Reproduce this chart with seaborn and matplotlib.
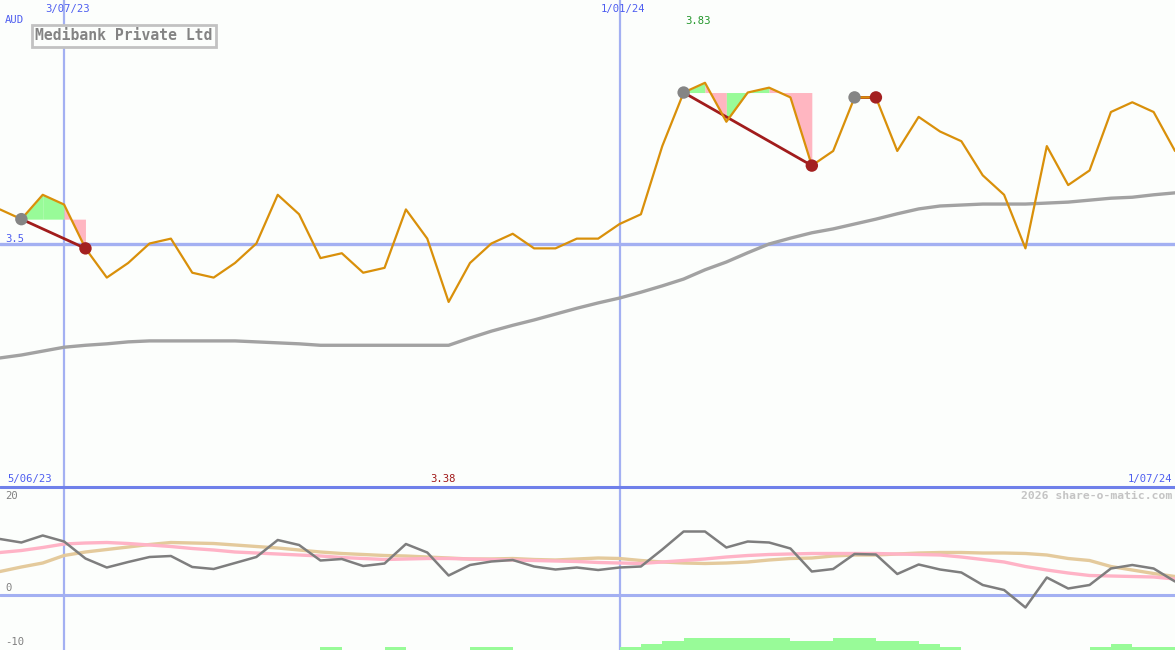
import numpy as np
import pandas as pd
import matplotlib
matplotlib.use("Agg")
import matplotlib.pyplot as plt
from matplotlib.lines import Line2D
from matplotlib.transforms import blended_transform_factory
import seaborn as sns

# ---------------- data ----------------
company = "Medibank Private Ltd"
currency = "AUD"
weeks = list(range(56))
price = [3.57, 3.55, 3.60, 3.58, 3.49, 3.43, 3.46, 3.50, 3.51, 3.44,
         3.43, 3.46, 3.50, 3.60, 3.56, 3.47, 3.48, 3.44, 3.45, 3.57,
         3.51, 3.38, 3.46, 3.50, 3.52, 3.49, 3.49, 3.51, 3.51, 3.54,
         3.56, 3.70, 3.81, 3.83, 3.75, 3.81, 3.82, 3.80, 3.66, 3.69,
         3.80, 3.80, 3.69, 3.76, 3.73, 3.71, 3.64, 3.60, 3.49, 3.70,
         3.62, 3.65, 3.77, 3.79, 3.77, 3.69]
moving_avg = [3.265, 3.271, 3.279, 3.287, 3.291, 3.294, 3.298, 3.300, 3.300, 3.300,
              3.300, 3.300, 3.298, 3.296, 3.294, 3.291, 3.291, 3.291, 3.291, 3.291,
              3.291, 3.291, 3.306, 3.320, 3.332, 3.343, 3.355, 3.367, 3.378, 3.388,
              3.400, 3.413, 3.427, 3.446, 3.462, 3.481, 3.499, 3.511, 3.522, 3.530,
              3.540, 3.550, 3.561, 3.571, 3.577, 3.579, 3.581, 3.581, 3.581, 3.583,
              3.585, 3.589, 3.593, 3.595, 3.600, 3.604]
osc_fast = [11.2, 10.5, 11.9, 10.7, 7.3, 5.5, 6.6, 7.6, 7.8, 5.6,
            5.2, 6.4, 7.6, 11.0, 10.0, 6.9, 7.2, 5.8, 6.3, 10.2,
            8.5, 3.9, 6.0, 6.7, 7.0, 5.7, 5.1, 5.5, 5.0, 5.5,
            5.7, 9.1, 12.7, 12.7, 9.5, 10.7, 10.5, 9.3, 4.7, 5.2,
            8.2, 8.1, 4.2, 6.1, 5.1, 4.5, 2.0, 1.0, -2.5, 3.5,
            1.3, 2.0, 5.3, 6.0, 5.3, 2.7]
osc_pink = [8.5, 8.9, 9.5, 10.2, 10.4, 10.5, 10.3, 10.0, 9.7, 9.3,
            9.0, 8.6, 8.4, 8.2, 8.0, 7.8, 7.5, 7.3, 7.1, 7.2,
            7.3, 7.3, 7.2, 7.1, 7.0, 6.9, 6.8, 6.7, 6.5, 6.4,
            6.3, 6.6, 6.9, 7.2, 7.6, 7.9, 8.1, 8.2, 8.3, 8.3,
            8.3, 8.3, 8.2, 8.1, 8.0, 7.6, 7.1, 6.6, 5.7, 5.0,
            4.4, 3.9, 3.8, 3.7, 3.6, 3.2]
osc_tan = [4.7, 5.6, 6.4, 7.9, 8.6, 9.1, 9.6, 10.1, 10.5, 10.4,
           10.3, 10.0, 9.7, 9.4, 9.0, 8.6, 8.3, 8.1, 7.9, 7.8,
           7.6, 7.4, 7.2, 7.2, 7.3, 7.1, 7.0, 7.2, 7.4, 7.3,
           6.9, 6.6, 6.4, 6.3, 6.4, 6.6, 7.0, 7.3, 7.4, 7.8,
           8.0, 8.0, 8.2, 8.4, 8.5, 8.5, 8.4, 8.4, 8.3, 8.0,
           7.3, 6.9, 5.7, 5.0, 4.3, 3.7]
bar_levels = [0, 0, 0, 0, 0, 0, 0, 0, 0, 0,
              0, 0, 0, 0, 0, 1, 0, 0, 1, 0,
              0, 0, 1, 1, 0, 0, 0, 0, 0, 1,
              2, 3, 4, 4, 4, 4, 4, 3, 3, 4,
              4, 3, 3, 2, 1, 0, 0, 0, 0, 0,
              0, 1, 2, 1, 1]
buy_idx = [1, 32, 40]
sell_idx = [4, 38, 41]
date_ticks = [3, 29]
date_labels = ["3/07/23", "1/01/24"]
start_label = "5/06/23"
end_label = "1/07/24"
price_ref = 3.5
price_ref_label = "3.5"
osc_tick_labels = ["20", "0", "-10"]

# ---------------- style ----------------
sns.set_theme(style="white")
BG = "#FCFEFC"
BLUE_LINE = "#A3B0F2"
BLUE_DARK = "#6F80EA"
BLUE_TXT = "#4E5EF0"
MONO = ["DejaVu Sans Mono"]
plt.rcParams["font.family"] = MONO

W, H = 1175, 650
SPLIT = 487
fig = plt.figure(figsize=(W / 100, H / 100), dpi=100, facecolor=BG)
ax1 = fig.add_axes([0, 1 - SPLIT / H, 1, SPLIT / H])
ax2 = fig.add_axes([0, 0, 1, (H - SPLIT) / H])
for ax in (ax1, ax2):
    ax.set_facecolor(BG)
    for sp in ax.spines.values():
        sp.set_visible(False)

df = pd.DataFrame({"week": weeks, "price": price, "ma": moving_avg,
                   "fast": osc_fast, "pink": osc_pink, "tan": osc_tan})

# ---------- top panel ----------
ax1.set_xlim(0, len(weeks) - 1)
ax1.set_ylim(3.0, 4.0)
for t in date_ticks:
    ax1.axvline(t, color=BLUE_LINE, lw=1.6, zorder=1)
ax1.axhline(price_ref, color=BLUE_LINE, lw=2.4, zorder=1)

# signal fills
p = np.array(price, dtype=float)
for b, s in zip(buy_idx, sell_idx):
    ref = p[b]
    for k in range(b, s):
        xs = np.array([k, k + 1], dtype=float)
        ys = p[k:k + 2]
        col = "#98FB98" if p[k + 1] >= ref - 1e-9 else "#FFB6C1"
        ax1.fill_between(xs, ys, ref, color=col, lw=0, zorder=2)

sns.lineplot(data=df, x="week", y="ma", ax=ax1, color="#A2A2A2", lw=2.4, zorder=3)
for b, s in zip(buy_idx, sell_idx):
    ax1.plot([b, s], [p[b], p[s]], color="#A11C1C", lw=2, zorder=4)
sns.lineplot(data=df, x="week", y="price", ax=ax1, color="#D9900A", lw=1.6, zorder=5)
sig = pd.DataFrame({"week": buy_idx + sell_idx,
                    "price": [price[i] for i in buy_idx] + [price[i] for i in sell_idx],
                    "kind": ["buy"] * len(buy_idx) + ["sell"] * len(sell_idx)})
sns.scatterplot(data=sig, x="week", y="price", hue="kind",
                palette={"buy": "#858585", "sell": "#A32020"},
                s=80, edgecolor="none", ax=ax1, zorder=6, legend=False)

tr1 = blended_transform_factory(ax1.transData, ax1.transAxes)
for t, lab in zip(date_ticks, date_labels):
    ax1.text(t + 0.15, 1 - 9 / SPLIT, lab, transform=tr1, ha="center", va="center",
             fontsize=7.6, color=BLUE_TXT)
ax1.text(5 / W, 1 - 20 / SPLIT, currency, transform=ax1.transAxes, ha="left",
         va="center", fontsize=7.6, color=BLUE_TXT)
ax1.text(5 / W, price_ref, price_ref_label,
         transform=blended_transform_factory(ax1.transAxes, ax1.transData),
         ha="left", va="bottom", fontsize=7.6, color=BLUE_TXT)
imax = int(np.argmax(p))
imin = int(np.argmin(p))
ax1.text(imax - 0.33, 1 - 21 / SPLIT, f"{p[imax]:.2f}", transform=tr1, ha="center",
         va="center", fontsize=7.6, color="#22962A")
ax1.text(imin - 0.28, 8 / SPLIT, f"{p[imin]:.2f}", transform=tr1, ha="center",
         va="center", fontsize=7.6, color="#A01818")
fig.text(35 / W, 1 - 36 / H, company, ha="left", va="center", fontsize=10.6,
         fontweight="bold", color="#848484",
         bbox=dict(boxstyle="square,pad=0.22", facecolor=BG, edgecolor="#C2C2C2", lw=2))

# ---------- bottom panel ----------
ax2.set_xlim(0, len(weeks) - 1)
ax2.set_ylim(-11.0, 21.6)
for t in date_ticks:
    ax2.axvline(t, color=BLUE_LINE, lw=1.6, zorder=1)
ax2.axhline(0, color=BLUE_LINE, lw=2.2, zorder=1)
lv = np.array(bar_levels, dtype=float)
ax2.bar(np.arange(len(lv)) + 0.5, lv * 0.6, width=1.0, bottom=-11.0,
        color="#98FB98", lw=0, zorder=2)
sns.lineplot(data=df, x="week", y="tan", ax=ax2, color="#E4CA9C", lw=2.4, zorder=3)
sns.lineplot(data=df, x="week", y="pink", ax=ax2, color="#FFB3C6", lw=2.4, zorder=4)
sns.lineplot(data=df, x="week", y="fast", ax=ax2, color="#7E7E7E", lw=1.8, zorder=5)
ax2.text(1 - 3 / W, 1 - 9 / (H - SPLIT), "2026 share-o-matic.com", transform=ax2.transAxes,
         ha="right", va="center", fontsize=8.2, fontweight="bold", color="#C4C4C4")
for lab, ypx in zip(osc_tick_labels, [496, 588, 642]):
    fig.text(5 / W, 1 - ypx / H, lab, ha="left", va="center", fontsize=7.6, color="#808080")

for ax in (ax1, ax2):
    ax.set_xlabel("")
    ax.set_ylabel("")
    ax.set_xticks([])
    ax.set_yticks([])

# separator and labels around it
fig.add_artist(Line2D([0, 1], [1 - SPLIT / H, 1 - SPLIT / H], transform=fig.transFigure,
                      color=BLUE_DARK, lw=2.2))
fig.text(7 / W, 1 - 479 / H, start_label, ha="left", va="center", fontsize=7.6, color=BLUE_TXT)
fig.text(1 - 3 / W, 1 - 479 / H, end_label, ha="right", va="center", fontsize=7.6, color=BLUE_TXT)

fig.savefig("out.png", dpi=100, facecolor=BG)
